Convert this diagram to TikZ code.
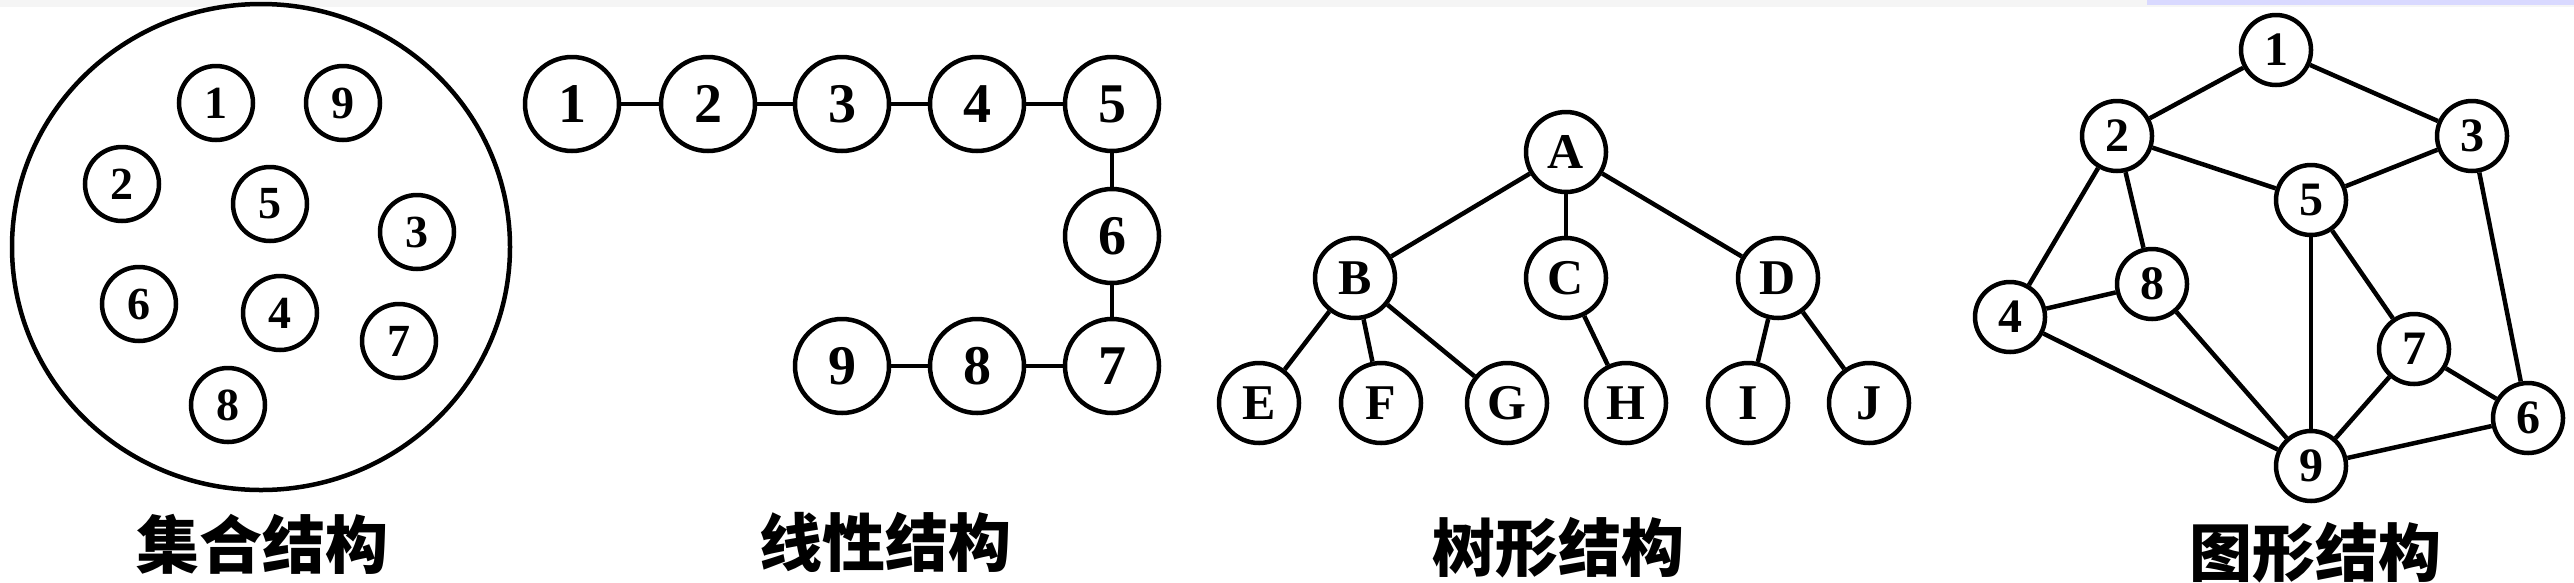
\documentclass[tikz,border=0pt]{standalone}
\usepackage{fontspec}
\setmainfont{Liberation Serif}
\newfontfamily\cjk{Noto Sans CJK SC}
\tikzset{
  elem/.style={circle,draw,line width=4.5pt,minimum size=74pt,inner sep=0pt,
    font=\fontsize{46}{46}\selectfont\bfseries},
  lin/.style={elem,minimum size=94pt,font=\fontsize{56}{56}\selectfont\bfseries},
  tnode/.style={elem,minimum size=80pt,font=\fontsize{50}{50}\selectfont\bfseries},
  gnode/.style={elem,minimum size=70pt,font=\fontsize{48}{48}\selectfont\bfseries},
  caption/.style={font=\cjk\bfseries\fontsize{63}{63}\selectfont},
  edge/.style={line width=4.5pt}
}
\begin{document}
\begin{tikzpicture}[x=1pt,y=-1pt]
\useasboundingbox (0,0) rectangle (2574,582);
\fill[gray!8] (0,0) rectangle (2574,7);
\fill[blue!15] (2147,0) rectangle (2574,5);
% set structure
\draw[line width=4.5pt] (261,247) ellipse (249pt and 243pt);
\node[elem] (s1) at (216,103) {1};
\node[elem] (s9) at (343,103) {9};
\node[elem] (s2) at (122,184) {2};
\node[elem] (s5) at (270,204) {5};
\node[elem] (s3) at (417,232) {3};
\node[elem] (s6) at (139,304) {6};
\node[elem] (s4) at (280,313) {4};
\node[elem] (s7) at (399,341) {7};
\node[elem] (s8) at (228,405) {8};
\node[caption] (setcap) at (262,544) {集合结构};
% linear structure
\node[lin] (l1) at (572,104) {1};
\node[lin] (l2) at (708,104) {2};
\node[lin] (l3) at (842,104) {3};
\node[lin] (l4) at (977,104) {4};
\node[lin] (l5) at (1112,104) {5};
\node[lin] (l6) at (1112,236) {6};
\node[lin] (l7) at (1112,366) {7};
\node[lin] (l8) at (977,366) {8};
\node[lin] (l9) at (842,366) {9};
\foreach \a/\b in {1/2,2/3,3/4,4/5,5/6,6/7,7/8,8/9}
  \draw[edge] (l\a) -- (l\b);
\node[caption] (lincap) at (885,542) {线性结构};
% tree structure
\node[tnode] (tA) at (1566,152) {A};
\node[tnode] (tB) at (1355,278) {B};
\node[tnode] (tC) at (1566,278) {C};
\node[tnode] (tD) at (1778,278) {D};
\node[tnode] (tE) at (1259,403) {E};
\node[tnode] (tF) at (1381,403) {F};
\node[tnode] (tG) at (1507,403) {G};
\node[tnode] (tH) at (1626,403) {H};
\node[tnode] (tI) at (1748,403) {I};
\node[tnode] (tJ) at (1869,403) {J};
\foreach \a/\b in {A/B,A/C,A/D,B/E,B/F,B/G,C/H,D/I,D/J}
  \draw[edge] (t\a) -- (t\b);
\node[caption] (treecap) at (1558,548) {树形结构};
% graph structure
\node[gnode] (g1) at (2276,50) {1};
\node[gnode] (g2) at (2117,136) {2};
\node[gnode] (g3) at (2472,136) {3};
\node[gnode] (g5) at (2311,200) {5};
\node[gnode] (g8) at (2152,284) {8};
\node[gnode] (g4) at (2010,317) {4};
\node[gnode] (g7) at (2414,349) {7};
\node[gnode] (g6) at (2528,418) {6};
\node[gnode] (g9) at (2311,466) {9};
\foreach \a/\b in {1/2,1/3,2/5,3/5,2/4,2/8,4/8,4/9,8/9,5/9,5/7,3/6,7/6,7/9,9/6}
  \draw[edge] (g\a) -- (g\b);
\node[caption] (graphcap) at (2315,553) {图形结构};
\end{tikzpicture}
\end{document}
